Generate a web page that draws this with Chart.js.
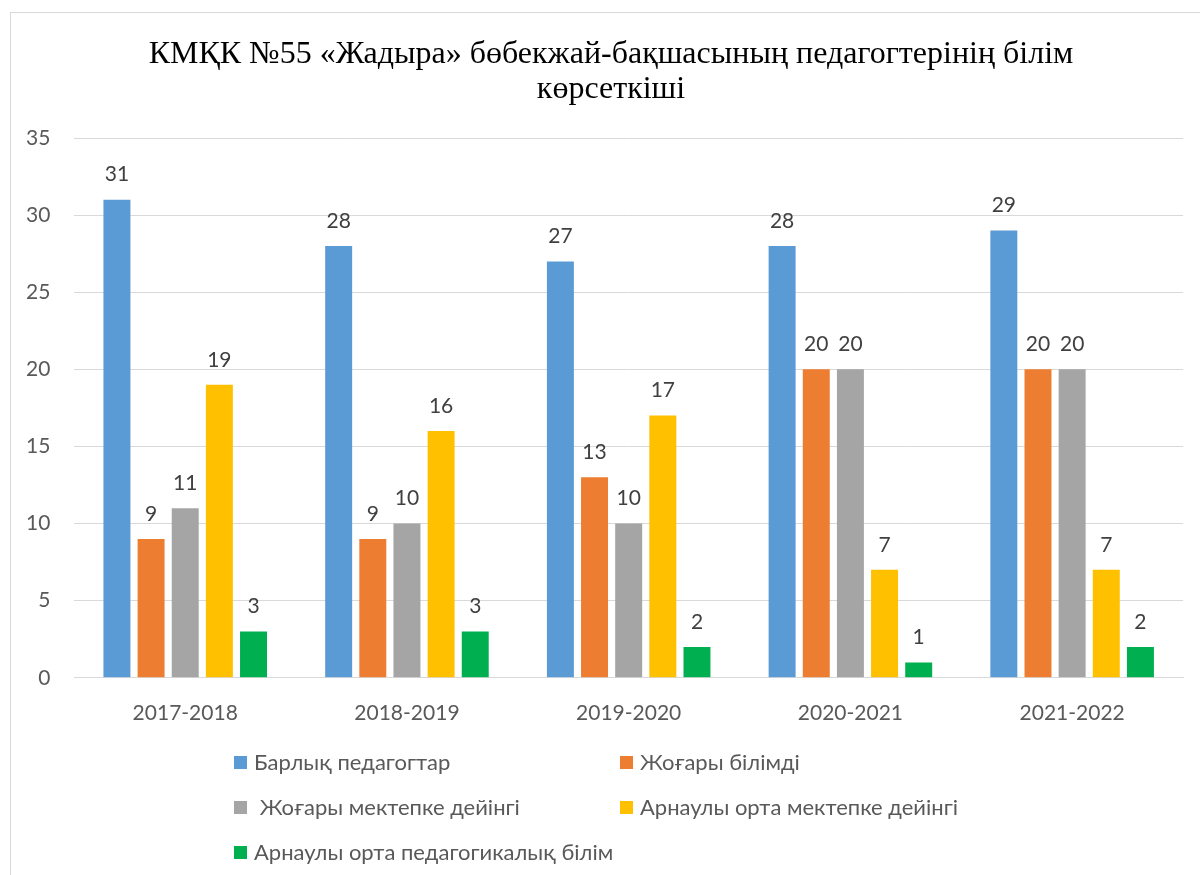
<!DOCTYPE html>
<html>
<head>
<meta charset="utf-8">
<script src="https://cdn.jsdelivr.net/npm/chart.js@4.4.0/dist/chart.umd.min.js"></script>
<style>
  html, body { margin: 0; padding: 0; background: #ffffff; }
  #wrap { position: relative; width: 1200px; height: 875px; }
  #frame { position: absolute; left: 10px; top: 12px; width: 1200px; height: 900px; border: 1px solid #d9d9d9; box-sizing: border-box; pointer-events: none; }
  canvas { position: absolute; left: 0; top: 0; }
</style>
</head>
<body>
<div id="wrap">
  <canvas id="c" width="1200" height="875"></canvas>
  <div id="frame"></div>
</div>
<script>
const categories = ["2017-2018", "2018-2019", "2019-2020", "2020-2021", "2021-2022"];
const seriesNames = [
  "Барлық педагогтар",
  "Жоғары білімді",
  " Жоғары мектепке дейінгі",
  "Арнаулы орта мектепке дейінгі",
  "Арнаулы орта педагогикалық білім"
];
const allTeachers = [31, 28, 27, 28, 29];
const higherEdu = [9, 9, 13, 20, 20];
const higherPreschool = [11, 10, 10, 20, 20];
const specialPreschool = [19, 16, 17, 7, 7];
const specialPedagogical = [3, 3, 2, 1, 2];
const yTicks = [0, 5, 10, 15, 20, 25, 30, 35];
const titleLines = ["КМҚК №55 «Жадыра» бөбекжай-бақшасының педагогтерінің білім", "көрсеткіші"];

const colors = ["#5B9BD5", "#ED7D31", "#A5A5A5", "#FFC000", "#00B050"];
const seriesValues = [allTeachers, higherEdu, higherPreschool, specialPreschool, specialPedagogical];

const labelFont = "Lato, 'Open Sans', sans-serif";

const titlePlugin = {
  id: "titlePlugin",
  afterDraw(chart) {
    const ctx = chart.ctx;
    ctx.save();
    ctx.font = "32px 'Liberation Serif', 'Times New Roman', serif";
    ctx.fillStyle = "#000000";
    ctx.textAlign = "center";
    ctx.textBaseline = "middle";
    const ys = [55, 90];
    titleLines.forEach((t, i) => ctx.fillText(t, 611, ys[i]));
    ctx.restore();
  }
};

const valueLabels = {
  id: "valueLabels",
  afterDatasetsDraw(chart) {
    const ctx = chart.ctx;
    ctx.save();
    ctx.font = "21px " + labelFont;
    ctx.fillStyle = "#404040";
    ctx.textAlign = "center";
    ctx.textBaseline = "middle";
    chart.data.datasets.forEach((ds, i) => {
      const meta = chart.getDatasetMeta(i);
      meta.data.forEach((bar, j) => {
        ctx.fillText(String(ds.data[j]), bar.x, bar.y - 25);
      });
    });
    ctx.restore();
  }
};

const gridLegend = {
  id: "gridLegend",
  afterDraw(chart) {
    const ctx = chart.ctx;
    ctx.save();
    ctx.font = "22px " + labelFont;
    ctx.textBaseline = "middle";
    ctx.textAlign = "left";
    const colX = [234, 620];
    const rowY = [763, 808, 853];
    chart.data.datasets.forEach((ds, i) => {
      const col = i % 2, row = Math.floor(i / 2);
      const x = colX[col], y = rowY[row];
      ctx.fillStyle = ds.backgroundColor;
      ctx.fillRect(x, y - 7, 13, 13);
      ctx.fillStyle = "#595959";
      ctx.fillText(ds.label, x + 20, y);
    });
    ctx.restore();
  }
};

new Chart(document.getElementById("c"), {
  type: "bar",
  data: {
    labels: categories,
    datasets: seriesNames.map((name, i) => ({
      label: name,
      data: seriesValues[i],
      backgroundColor: colors[i],
      categoryPercentage: 0.77,
      barPercentage: 0.79
    }))
  },
  options: {
    responsive: false,
    animation: false,
    devicePixelRatio: 1,
    layout: { padding: { left: 2, right: 17, top: 138, bottom: 126 } },
    plugins: {
      legend: { display: false },
      tooltip: { enabled: false },
      title: { display: false }
    },
    scales: {
      x: {
        grid: { display: false, drawTicks: false },
        border: { display: true, color: "#d9d9d9", width: 1 },
        ticks: { color: "#595959", font: { family: labelFont, size: 21 }, padding: 23 }
      },
      y: {
        min: 0,
        max: 35,
        afterBuildTicks(axis) { axis.ticks = yTicks.map(v => ({ value: v })); },
        grid: { color: "#d9d9d9", drawTicks: false },
        border: { display: false },
        ticks: { color: "#595959", font: { family: labelFont, size: 21 }, padding: 24 }
      }
    }
  },
  plugins: [valueLabels, gridLegend, titlePlugin]
});
</script>
</body>
</html>
